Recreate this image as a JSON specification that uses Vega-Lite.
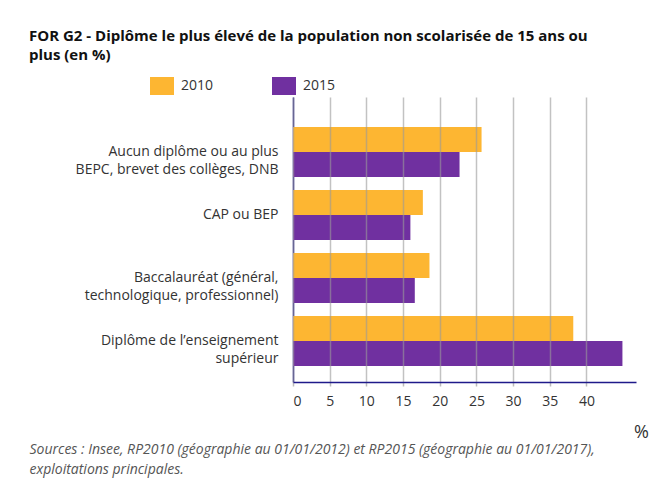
{
  "$schema": "https://vega.github.io/schema/vega-lite/v6.json",
  "autosize": {"type": "none"},
  "width": 343,
  "height": 285,
  "padding": {"left": 293, "top": 97, "right": 18, "bottom": 105},
  "background": "white",
  "title": {
    "text": ["FOR G2 - Diplôme le plus élevé de la population non scolarisée de 15 ans ou", "plus (en %)"],
    "anchor": "start",
    "frame": "group",
    "dx": -264,
    "dy": -7,
    "font": "Open Sans",
    "fontSize": 15,
    "fontWeight": "bold",
    "color": "#111111",
    "lineHeight": 19
  },
  "data": {
    "values": [
      {"diplome": "Aucun diplôme ou au plus|BEPC, brevet des collèges, DNB", "annee": "2010", "valeur": 25.7},
      {"diplome": "Aucun diplôme ou au plus|BEPC, brevet des collèges, DNB", "annee": "2015", "valeur": 22.7},
      {"diplome": "CAP ou BEP", "annee": "2010", "valeur": 17.7},
      {"diplome": "CAP ou BEP", "annee": "2015", "valeur": 16.0},
      {"diplome": "Baccalauréat (général,|technologique, professionnel)", "annee": "2010", "valeur": 18.6},
      {"diplome": "Baccalauréat (général,|technologique, professionnel)", "annee": "2015", "valeur": 16.6},
      {"diplome": "Diplôme de l’enseignement|supérieur", "annee": "2010", "valeur": 38.2},
      {"diplome": "Diplôme de l’enseignement|supérieur", "annee": "2015", "valeur": 44.9}
    ]
  },
  "mark": {"type": "bar"},
  "encoding": {
    "y": {
      "field": "diplome",
      "type": "nominal",
      "sort": null,
      "scale": {"paddingInner": 0.206, "paddingOuter": 0.365, "align": 0.65},
      "axis": {
        "labelExpr": "split(datum.label, '|')",
        "labelFont": "Open Sans",
        "labelFontSize": 14,
        "labelColor": "#333333",
        "labelLineHeight": 18,
        "labelPadding": 15,
        "labelLimit": 300,
        "ticks": false,
        "domainColor": "#1f1a8a",
        "domainWidth": 1.5,
        "title": ["Sources : Insee, RP2010 (géographie au 01/01/2012) et RP2015 (géographie au 01/01/2017),", "exploitations principales."],
        "titleAngle": 0,
        "titleX": -264,
        "titleY": 345,
        "titleAlign": "left",
        "titleBaseline": "top",
        "titleFont": "Open Sans",
        "titleFontSize": 14,
        "titleFontStyle": "italic",
        "titleFontWeight": "normal",
        "titleColor": "#555555",
        "titleLineHeight": 20
      }
    },
    "yOffset": {
      "field": "annee",
      "type": "nominal",
      "scale": {"paddingInner": 0, "paddingOuter": 0}
    },
    "x": {
      "field": "valeur",
      "type": "quantitative",
      "scale": {"domain": [0, 46.75], "nice": false, "zero": true},
      "axis": {
        "values": [0, 5, 10, 15, 20, 25, 30, 35, 40],
        "zindex": 1,
        "grid": true,
        "gridColor": "#999999",
        "gridOpacity": 0.6,
        "gridWidth": 1.5,
        "domainColor": "#1f1a8a",
        "domainWidth": 1.5,
        "ticks": true,
        "tickColor": "#bbbbbb",
        "tickSize": 4,
        "tickWidth": 1.5,
        "labelFont": "Open Sans",
        "labelFontSize": 14,
        "labelColor": "#333333",
        "labelPadding": 8,
        "title": "%",
        "titleX": 348,
        "titleY": 50,
        "titleAlign": "center",
        "titleBaseline": "middle",
        "titleFont": "Open Sans",
        "titleFontSize": 18,
        "titleFontWeight": "normal",
        "titleColor": "#333333"
      }
    },
    "color": {
      "field": "annee",
      "type": "nominal",
      "scale": {"domain": ["2010", "2015"], "range": ["#FDB632", "#7030A0"]},
      "legend": {
        "title": null,
        "orient": "none",
        "direction": "horizontal",
        "legendX": -143,
        "legendY": -23,
        "padding": 0,
        "symbolType": "M-1,-0.75H1V0.75H-1Z",
        "symbolSize": 576,
        "symbolStrokeWidth": 0,
        "symbolOpacity": 1,
        "labelFont": "Open Sans",
        "labelFontSize": 14,
        "labelColor": "#333333",
        "labelOffset": 7,
        "columnPadding": 58
      }
    }
  },
  "config": {
    "view": {"stroke": null}
  }
}
